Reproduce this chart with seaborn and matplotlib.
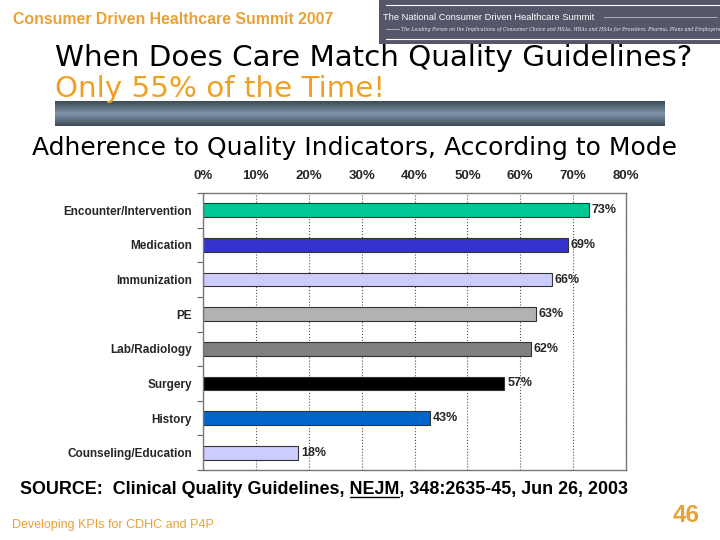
import numpy as np
import pandas as pd
import matplotlib
matplotlib.use('Agg')
import matplotlib.pyplot as plt
import seaborn as sns
from matplotlib.ticker import FixedLocator

# data
modes = ['Encounter/Intervention', 'Medication', 'Immunization', 'PE',
         'Lab/Radiology', 'Surgery', 'History', 'Counseling/Education']
adherence = [73, 69, 66, 63, 62, 57, 43, 18]
bar_colors = ['#00C896', '#3333CC', '#CCCCFF', '#B2B2B2',
              '#808080', '#000000', '#0066CC', '#CCCCFF']
x_ticks = [0, 10, 20, 30, 40, 50, 60, 70, 80]
x_ticklabels = ['0%', '10%', '20%', '30%', '40%', '50%', '60%', '70%', '80%']

sns.set_theme(style='white')
plt.rcParams['font.family'] = ['Liberation Sans', 'DejaVu Sans']

W, H = 720, 540
fig = plt.figure(figsize=(7.2, 5.4), dpi=100)
fig.patch.set_facecolor('white')
renderer = fig.canvas.get_renderer()
orange = '#E9A135'


def px(x, y):
    return x / W, 1 - y / H


def fit(t, width):
    bb = t.get_window_extent(renderer)
    t.set_fontsize(t.get_fontsize() * width / bb.width)
    return t


def put(x, y, s, width, **kw):
    kw.setdefault('va', 'center')
    kw.setdefault('ha', 'left')
    t = fig.text(*px(x, y), s, **kw)
    return fit(t, width)


# header
put(13, 20, 'Consumer Driven Healthcare Summit 2007', 322, color=orange,
    fontweight='bold', fontsize=11)

# banner at top right
bax = fig.add_axes([379 / W, 1 - 44 / H, (W - 379) / W, 44 / H])
bax.set_xlim(0, 1); bax.set_ylim(0, 1)
bax.set_facecolor('#56566A')
bax.set_xticks([]); bax.set_yticks([])
for s in bax.spines.values():
    s.set_visible(False)
bax.plot([0.02, 1], [0.89, 0.89], color='white', lw=0.8)
bax.plot([0.02, 1], [0.12, 0.12], color='white', lw=0.8)
bax.plot([0.66, 0.99], [0.61, 0.61], color='#BBBBCC', lw=0.6)
bax.plot([0.02, 0.06], [0.35, 0.35], color='#BBBBCC', lw=0.6)
put(383, 17, 'The National Consumer Driven Healthcare Summit', 213,
    color='white', fontsize=8)
put(401, 29, 'The Leading Forum on the Implications of Consumer Choice and HSAs, '
    'HRAs and HSAs for Providers, Pharma, Plans and Employers', 315,
    color='#EEEEEE', fontsize=4, family='DejaVu Serif', style='italic')

# titles
put(55, 58, 'When Does Care Match Quality Guidelines?', 637,
    family='DejaVu Sans', fontsize=20, color='black')
put(55, 89, 'Only 55% of the Time!', 330, family='DejaVu Sans',
    fontsize=20, color='#F0A020')

# gradient bar under the title
gax = fig.add_axes([55 / W, 1 - 126 / H, (665 - 55) / W, 25 / H])
grad = np.concatenate([np.linspace(0, 1, 12), np.linspace(1, 0, 12)])
gcols = np.array([[0.25, 0.30, 0.35]]) + grad[:, None] * np.array([[0.23, 0.27, 0.30]])
gax.imshow(np.repeat(gcols[:, None, :], 10, axis=1), aspect='auto')
gax.axis('off')

put(32, 148, 'Adherence to Quality Indicators, According to Mode', 646,
    family='DejaVu Sans', fontsize=16, color='black')

# the chart
df = pd.DataFrame({'mode': modes, 'adherence': adherence})
ax = fig.add_axes([203 / W, 1 - 470 / H, 423 / W, 277 / H])
sns.barplot(data=df, x='adherence', y='mode', hue='mode',
            palette=dict(zip(modes, bar_colors)), legend=False, width=0.4,
            saturation=1, edgecolor='#333333', linewidth=0.8, ax=ax)
ax.set_xlim(0, 80)
ax.set_ylim(7.5, -0.5)
ax.set_xlabel('')
ax.set_ylabel('')
ax.xaxis.tick_top()
ax.set_xticks(x_ticks)
ax.set_xticklabels(x_ticklabels, fontweight='bold', fontsize=9.5)
ax.tick_params(axis='x', length=0, pad=8)
ax.tick_params(axis='y', which='major', length=0, pad=8, labelsize=8.5)
for lab in ax.get_yticklabels():
    lab.set_fontweight('bold')
ax.yaxis.set_minor_locator(FixedLocator(np.arange(-0.5, 8, 1)))
ax.tick_params(axis='y', which='minor', left=True, length=4, width=0.8,
               color='#666666', direction='out')
ax.grid(axis='x', linestyle=':', color='#555555', lw=0.8)
ax.set_axisbelow(True)
for s in ax.spines.values():
    s.set_visible(True)
    s.set_color('#777777')
    s.set_linewidth(1)
for c in ax.containers:
    ax.bar_label(c, fmt='{:.0f}%', padding=2, fontsize=9, fontweight='bold')

# source line with underlined journal name
src_pre = 'SOURCE:  Clinical Quality Guidelines, '
src_all = src_pre + 'NEJM, 348:2635-45, Jun 26, 2003'
t = put(20, 489, src_all, 608, fontsize=11, fontweight='bold', color='black')
fs = t.get_fontsize()
tp = fig.text(*px(20, 489), src_pre, fontsize=fs, fontweight='bold',
              va='center', alpha=0)
tn = fig.text(*px(20, 489), src_pre + 'NEJM', fontsize=fs, fontweight='bold',
              va='center', alpha=0)
x0 = 20 + tp.get_window_extent(renderer).width
x1 = 20 + tn.get_window_extent(renderer).width
fig.add_artist(plt.Line2D([x0 / W, x1 / W], [1 - 497 / H] * 2, color='black',
                          lw=1, transform=fig.transFigure))

# footer
put(12, 525, 'Developing KPIs for CDHC and P4P', 203, color=orange, fontsize=8)
put(673, 516, '46', 27, color=orange, fontweight='bold', fontsize=16)

fig.savefig('out.png', dpi=100)
